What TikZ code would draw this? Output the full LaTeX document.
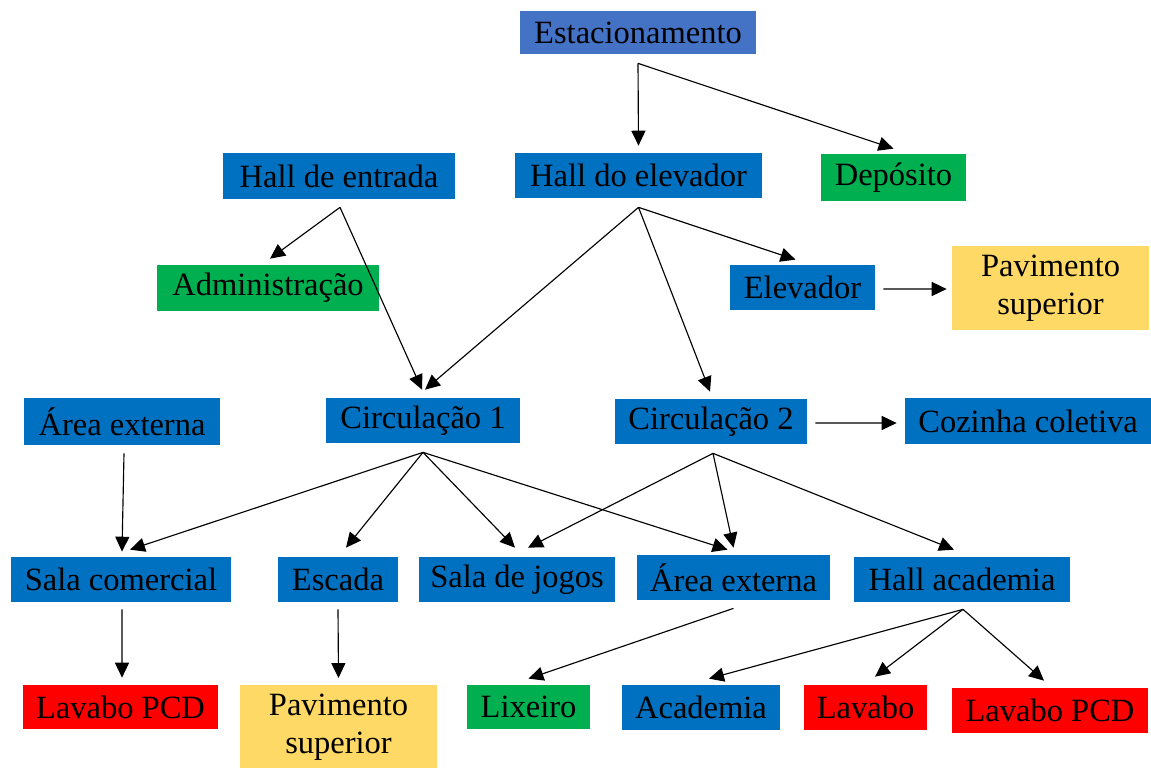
\documentclass[tikz,border=0pt]{standalone}
\usepackage{fontspec}
\setmainfont{Liberation Serif}
\usetikzlibrary{calc,arrows.meta}
\definecolor{cBlue}{HTML}{0070C0}
\definecolor{cEst}{HTML}{4472C4}
\definecolor{cGreen}{HTML}{00B050}
\definecolor{cYellow}{HTML}{FFD966}
\definecolor{cRed}{HTML}{FF0000}
\begin{document}
\begin{tikzpicture}[x=0.02cm,y=-0.02cm,
  box/.style={inner sep=0pt, text=black, align=center, font=\fontsize{18.5}{21.5}\selectfont},
  sz/.style 2 args={minimum width=#1*0.02cm, minimum height=#2*0.02cm},
  bl/.style={box, fill=cBlue},
  gr/.style={box, fill=cGreen},
  ye/.style={box, fill=cYellow},
  rd/.style={box, fill=cRed},
  arr/.style={draw=black, line width=0.65pt, -{Triangle[length=8.5pt,width=8pt]}}]
\useasboundingbox (0,0) rectangle (1151,767);
% nodes
\node[box, fill=cEst, sz={236}{43}] (est) at (638,32.5) {Estacionamento};
\node[bl, sz={232}{46}] (hde) at (339,176) {Hall de entrada};
\node[bl, sz={247}{45}] (hel) at (638.5,175.5) {Hall do elevador};
\node[gr, sz={145}{47}] (dep) at (893.5,177.5) {Depósito};
\node[gr, sz={222}{46}] (adm) at (268,288) {Administração};
\node[bl, sz={145}{45}] (elev) at (802.5,287.5) {Elevador};
\node[ye, sz={197}{84}] (pavA) at (1050.5,288) {Pavimento\\superior};
\node[bl, sz={196}{47}] (aeA) at (122,421.5) {Área externa};
\node[bl, sz={194}{45}] (cA) at (423,420.5) {Circulação 1};
\node[bl, sz={192}{45}] (cB) at (711,421.5) {Circulação 2};
\node[bl, sz={246}{46}] (coz) at (1028,421) {Cozinha coletiva};
\node[bl, sz={220}{45}] (sc) at (121,579.5) {Sala comercial};
\node[bl, sz={120}{45}] (esc) at (338,579.5) {Escada};
\node[bl, sz={196}{45}] (sj) at (517,579.5) {Sala de jogos};
\node[bl, sz={193}{45}] (aeB) at (733.5,577.5) {Área externa};
\node[bl, sz={216}{45}] (ha) at (962,579.5) {Hall academia};
\node[rd, sz={195}{44}] (lpA) at (120.5,707) {Lavabo PCD};
\node[ye, sz={197}{84}, anchor=north] (pavB) at (338.5,685) {Pavimento\\superior};
\node[gr, sz={123}{44}] (lix) at (528.5,707) {Lixeiro};
\node[bl, sz={158}{45}] (acad) at (701,707.5) {Academia};
\node[rd, sz={123}{45}] (lav) at (865.5,707.5) {Lavabo};
\node[rd, sz={196}{45}] (lpB) at (1050,710.5) {Lavabo PCD};
% connectors
\draw[arr] ($(est.south)+(0,9)$) -- ($(hel.north)+(0,-7)$);
\draw[arr] ($(est.south)+(0,9)$) -- ($(dep.north)+(0,-5)$);
\draw[arr] ($(hde.south)+(1,8)$) -- ($(adm.north)+(2,-6)$);
\draw[arr] ($(hde.south)+(1,8)$) -- ($(cA.north)+(-1,-8)$);
\draw[arr] ($(hel.south)+(0,9)$) -- ($(cA.north)+(2,-8)$);
\draw[arr] ($(hel.south)+(0,9)$) -- ($(cB.north)+(-1,-7)$);
\draw[arr] ($(hel.south)+(0,9)$) -- ($(elev.north)+(-7,-5)$);
\draw[arr] ($(elev.east)+(8,1.5)$) -- ($(pavA.west)+(-5,1)$);
\draw[arr] ($(cB.east)+(8,1.5)$) -- ($(coz.west)+(-8,2)$);
\draw[arr] ($(aeA.south)+(2,8)$) -- ($(sc.north)+(1,-5)$);
\draw[arr] ($(cA.south)+(0,9)$) -- ($(sc.north)+(9,-7)$);
\draw[arr] ($(cA.south)+(0,9)$) -- ($(esc.north)+(8,-9)$);
\draw[arr] ($(cA.south)+(0,9)$) -- ($(sj.north)+(-2,-9)$);
\draw[arr] ($(cA.south)+(0,9)$) -- ($(aeB.north)+(-6,-5)$);
\draw[arr] ($(cB.south)+(2,9)$) -- ($(sj.north)+(11,-9)$);
\draw[arr] ($(cB.south)+(2,9)$) -- ($(aeB.north)+(0,-7)$);
\draw[arr] ($(cB.south)+(2,9)$) -- ($(ha.north)+(-8,-7)$);
\draw[arr] ($(sc.south)+(1,7)$) -- ($(lpA.north)+(1.5,-7)$);
\draw[arr] ($(esc.south)+(0,7)$) -- ($(pavB.north)+(0,-7)$);
\draw[arr] ($(aeB.south)+(0,8)$) -- ($(lix.north)+(0,-6)$);
\draw[arr] ($(ha.south)+(1,7)$) -- ($(acad.north)+(8,-6)$);
\draw[arr] ($(ha.south)+(1,7)$) -- ($(lav.north)+(9.5,-8)$);
\draw[arr] ($(ha.south)+(1,7)$) -- ($(lpB.north)+(-6,-7)$);
\end{tikzpicture}
\end{document}
